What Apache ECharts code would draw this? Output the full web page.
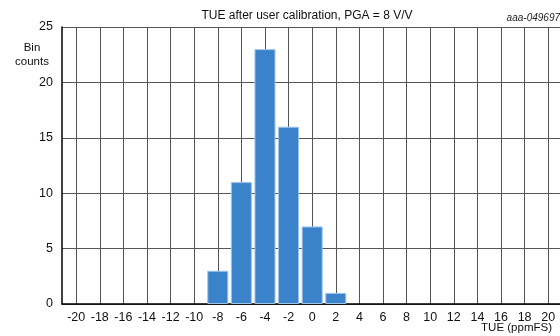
<!DOCTYPE html>
<html><head><meta charset="utf-8">
<script src="https://cdn.jsdelivr.net/npm/echarts@6/dist/echarts.min.js"></script>
<style>html,body{margin:0;padding:0;background:#fff}#c{width:560px;height:336px}</style>
</head><body><div id="c"></div>
<script>
const binCenters = [-8, -6, -4, -2, 0, 2];
const binCounts = [3, 11, 23, 16, 7, 1];
const xTicks = [-20,-18,-16,-14,-12,-10,-8,-6,-4,-2,0,2,4,6,8,10,12,14,16,18,20];
const titleText = 'TUE after user calibration, PGA = 8 V/V';
const xName = 'TUE (ppmFS)';
const yName = ['Bin', 'counts'];
const figId = 'aaa-049697';

const FONT = '"Liberation Sans", Arial, sans-serif';
const chart = echarts.init(document.getElementById('c'), null, {renderer: 'canvas'});
chart.setOption({
  animation: false,
  backgroundColor: '#fff',
  grid: {left: 62, right: 0, top: 27, bottom: 32, containLabel: false},
  xAxis: {
    type: 'value', min: -21.2, max: 21,
    axisLine: {show: true, onZero: false, lineStyle: {color: '#000', width: 1.5}},
    axisTick: {show: false, customValues: xTicks},
    axisLabel: {customValues: xTicks, color: '#111', fontFamily: FONT, fontSize: 12.5, margin: 7},
    splitLine: {show: true, lineStyle: {color: '#555', width: 1}}
  },
  yAxis: {
    type: 'value', min: 0, max: 25, interval: 5,
    axisLine: {show: true, onZero: false, lineStyle: {color: '#000', width: 1.5}},
    axisTick: {show: false},
    axisLabel: {color: '#111', fontFamily: FONT, fontSize: 12.5, margin: 9},
    splitLine: {show: true, lineStyle: {color: '#555', width: 1}}
  },
  series: [{
    type: 'bar',
    data: binCenters.map((x, i) => [x, binCounts[i]]),
    barWidth: 21,
    itemStyle: {color: '#3a82ca', borderColor: '#9cc3ea', borderWidth: 1},
    z: 3
  }],
  graphic: [
    {type: 'text', x: 307, y: 10, style: {text: titleText, font: '12px ' + FONT, fill: '#111', align: 'center'}},
    {type: 'text', x: 560, y: 13, style: {text: figId, font: 'italic 10px ' + FONT, fill: '#222', align: 'right'}},
    {type: 'text', x: 32, y: 42, style: {text: yName[0], font: '11.5px ' + FONT, fill: '#111', align: 'center'}},
    {type: 'text', x: 32, y: 56, style: {text: yName[1], font: '11.5px ' + FONT, fill: '#111', align: 'center'}},
    {type: 'text', x: 552, y: 322, style: {text: xName, font: '11.5px ' + FONT, fill: '#111', align: 'right'}}
  ]
});
</script></body></html>
